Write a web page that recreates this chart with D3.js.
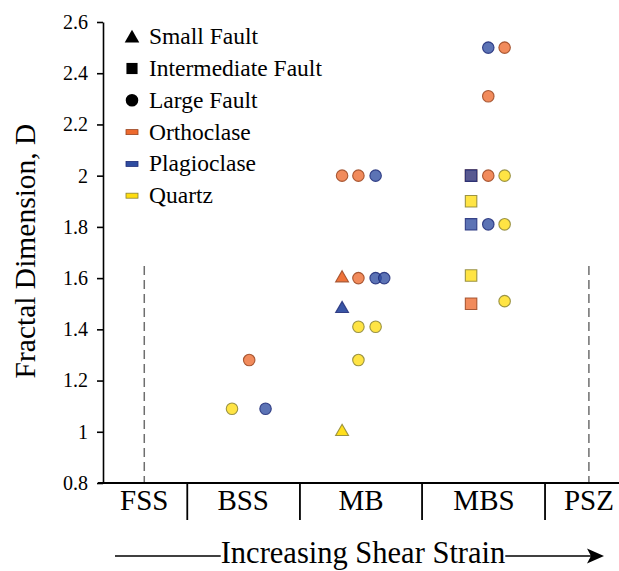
<!DOCTYPE html>
<html>
<head>
<meta charset="utf-8">
<script src="https://cdn.jsdelivr.net/npm/d3@7"></script>
<style>
  html, body { margin: 0; padding: 0; background: #fff; }
  svg { display: block; }
  svg text { font-family: "Liberation Serif", "Times New Roman", serif; }
</style>
</head>
<body>
<svg id="chart" width="619" height="571"></svg>
<script>
// Shear-strain zones along the horizontal axis
const zones = ["FSS", "BSS", "MB", "MBS", "PSZ"];
const zoneLabelPos = [2.4, 8.15, 15.0, 22.15, 28.25];
const zoneBounds = [4.9, 11.45, 18.55, 25.7];
const zoneEdges = [2.4, 28.25];

// Fractal dimension axis
const yTicks = [0.8, 1.0, 1.2, 1.4, 1.6, 1.8, 2.0, 2.2, 2.4, 2.6];
const yTickLabels = ["0.8", "1", "1.2", "1.4", "1.6", "1.8", "2", "2.2", "2.4", "2.6"];

// Measurements: x = position along the strain axis, d = fractal dimension
const orthoclaseSmall = [{x: 13.9, d: 1.6}];
const orthoclaseIntermediate = [{x: 21.4, d: 2.0}, {x: 21.4, d: 1.5}];
const orthoclaseLarge = [
  {x: 8.5, d: 1.28},
  {x: 13.9, d: 2.0}, {x: 14.85, d: 2.0}, {x: 14.85, d: 1.6},
  {x: 23.35, d: 2.5}, {x: 22.4, d: 2.31}, {x: 22.4, d: 2.0}
];
const plagioclaseSmall = [{x: 13.9, d: 1.48}];
const plagioclaseIntermediate = [{x: 21.4, d: 2.0}, {x: 21.4, d: 1.81}];
const plagioclaseLarge = [
  {x: 9.45, d: 1.09},
  {x: 15.85, d: 2.0}, {x: 15.85, d: 1.6}, {x: 16.35, d: 1.6},
  {x: 22.4, d: 2.5}, {x: 22.4, d: 1.81}
];
const quartzSmall = [{x: 13.9, d: 1.0}];
const quartzIntermediate = [{x: 21.4, d: 1.9}, {x: 21.4, d: 1.61}];
const quartzLarge = [
  {x: 7.5, d: 1.09},
  {x: 14.85, d: 1.41}, {x: 15.85, d: 1.41}, {x: 14.85, d: 1.28},
  {x: 23.35, d: 2.0}, {x: 23.35, d: 1.81}, {x: 23.35, d: 1.51}
];

const minerals = [
  {name: "Orthoclase", fill: "#ED6A2E", stroke: "#9A4520"},
  {name: "Plagioclase", fill: "#2E4CA0", stroke: "#1E2C78"},
  {name: "Quartz", fill: "#FFDD10", stroke: "#8A8232"}
];
const faultTypes = ["Small Fault", "Intermediate Fault", "Large Fault"];

const series = [
  {mineral: 0, shape: "square", data: orthoclaseIntermediate},
  {mineral: 1, shape: "square", data: plagioclaseIntermediate},
  {mineral: 2, shape: "square", data: quartzIntermediate},
  {mineral: 0, shape: "circle", data: orthoclaseLarge},
  {mineral: 1, shape: "circle", data: plagioclaseLarge},
  {mineral: 2, shape: "circle", data: quartzLarge},
  {mineral: 0, shape: "triangle", data: orthoclaseSmall},
  {mineral: 1, shape: "triangle", data: plagioclaseSmall},
  {mineral: 2, shape: "triangle", data: quartzSmall}
];

const FONT = "Liberation Serif";
const svg = d3.select("#chart");
const x = d3.scaleLinear().domain([0, 30]).range([103, 619]);
const y = d3.scaleLinear().domain([0.8, 2.6]).range([483, 22]);

const shapePath = {
  circle: d3.symbol(d3.symbolCircle, 104)(),
  square: d3.symbol(d3.symbolSquare, 132)(),
  triangle: d3.symbol(d3.symbolTriangle, 72)()
};

// Dashed zone edges
svg.append("g").selectAll("line").data(zoneEdges).join("line")
  .attr("x1", d => x(d)).attr("x2", d => x(d))
  .attr("y1", 266).attr("y2", y(0.8))
  .attr("stroke", "#6e6e6e").attr("stroke-width", 1.5)
  .attr("stroke-dasharray", "9,5");

// Y axis
const yAxis = d3.axisLeft(y).tickValues(yTicks)
  .tickFormat((d, i) => yTickLabels[i]).tickSize(6).tickSizeOuter(0).tickPadding(9);
const gy = svg.append("g").attr("transform", `translate(${x(0)},0)`).call(yAxis)
  .attr("font-family", FONT);
gy.select(".domain").attr("stroke", "#000").attr("stroke-width", 1.6);
gy.selectAll(".tick line").attr("stroke", "#000").attr("stroke-width", 1.6);
gy.selectAll(".tick text").attr("font-size", 20).attr("font-family", FONT).attr("fill", "#000");

// X baseline and zone dividers
svg.append("line")
  .attr("x1", x(0) - 5).attr("x2", 619)
  .attr("y1", y(0.8)).attr("y2", y(0.8))
  .attr("stroke", "#000").attr("stroke-width", 1.8);
svg.append("g").selectAll("line").data(zoneBounds).join("line")
  .attr("x1", d => x(d)).attr("x2", d => x(d))
  .attr("y1", y(0.8)).attr("y2", 520)
  .attr("stroke", "#000").attr("stroke-width", 1.8);
svg.append("g").selectAll("text").data(zones).join("text")
  .attr("x", (d, i) => x(zoneLabelPos[i])).attr("y", 510)
  .attr("text-anchor", "middle").attr("font-size", 29).attr("font-family", FONT).attr("fill", "#000")
  .text(d => d);

// Axis title
svg.append("text")
  .attr("transform", "translate(35,251) rotate(-90)")
  .attr("text-anchor", "middle").attr("font-size", 29.5).attr("font-family", FONT).attr("fill", "#000")
  .text("Fractal Dimension, D");

// Points
series.forEach(s => {
  const m = minerals[s.mineral];
  svg.append("g").selectAll("path").data(s.data).join("path")
    .attr("d", shapePath[s.shape])
    .attr("transform", d => `translate(${x(d.x)},${y(d.d)})`)
    .attr("fill", m.fill)
    .attr("fill-opacity", s.shape === "triangle" ? 0.95 : 0.78)
    .attr("stroke", m.stroke).attr("stroke-opacity", 0.85)
    .attr("stroke-width", 1.1);
});

// Legend
const legend = svg.append("g");
const legendRows = [
  ...faultTypes.map((t, i) => ({label: t, kind: ["triangle", "square", "circle"][i]})),
  ...minerals.map(m => ({label: m.name, kind: "swatch", m}))
];
const legendY = d3.scalePoint().domain(d3.range(legendRows.length)).range([36.7, 195.7]);
legendRows.forEach((r, i) => {
  const cy = legendY(i);
  if (r.kind === "swatch") {
    legend.append("rect")
      .attr("x", 126).attr("y", cy - 2.5).attr("width", 12).attr("height", 5)
      .attr("fill", r.m.fill).attr("stroke", r.m.stroke).attr("stroke-width", 0.8);
  } else {
    const size = {triangle: 92, square: 124, circle: 124}[r.kind];
    const sym = {triangle: d3.symbolTriangle, square: d3.symbolSquare, circle: d3.symbolCircle}[r.kind];
    const dy = r.kind === "triangle" ? 1.5 : 0;
    legend.append("path")
      .attr("d", d3.symbol(sym, size)())
      .attr("transform", `translate(132,${cy + dy})`)
      .attr("fill", "#000");
  }
  legend.append("text")
    .attr("x", 149).attr("y", cy + 7.5)
    .attr("font-size", 23.5).attr("font-family", FONT).attr("fill", "#000")
    .text(r.label);
});

// Shear strain arrow
const arrowY = 556;
const title = svg.append("text")
  .attr("x", 363).attr("y", 563)
  .attr("text-anchor", "middle").attr("font-size", 30.5).attr("font-family", FONT).attr("fill", "#000")
  .text("Increasing Shear Strain");
const tw = title.node().getComputedTextLength();
const tl = 363 - tw / 2, tr = 363 + tw / 2;
svg.append("line").attr("x1", 115).attr("x2", tl).attr("y1", arrowY).attr("y2", arrowY)
  .attr("stroke", "#000").attr("stroke-width", 1.6);
svg.append("line").attr("x1", tr).attr("x2", 592).attr("y1", arrowY).attr("y2", arrowY)
  .attr("stroke", "#000").attr("stroke-width", 1.6);
svg.append("path")
  .attr("d", `M604,${arrowY} L587,${arrowY - 7.5} L591,${arrowY} L587,${arrowY + 7.5} Z`)
  .attr("fill", "#000");
</script>
</body>
</html>
